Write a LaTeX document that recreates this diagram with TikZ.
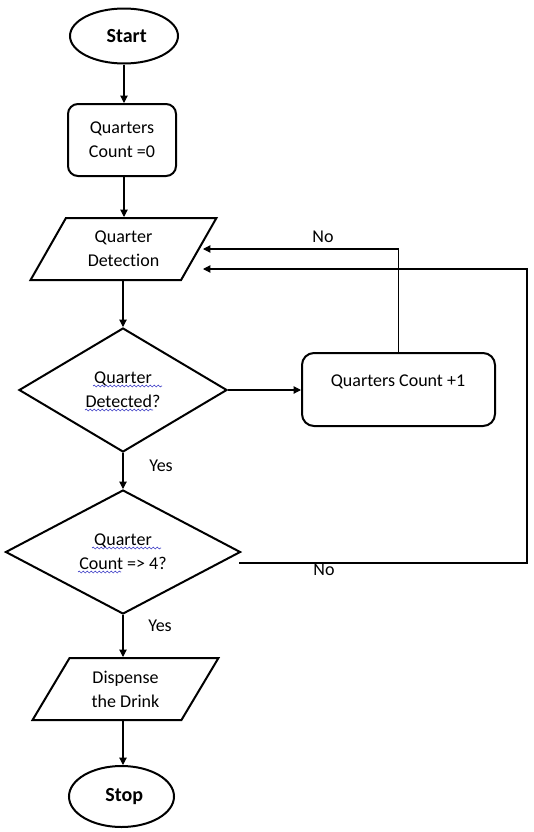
\documentclass[tikz,border=0pt]{standalone}
\usepackage{fontspec}
\setmainfont{Carlito}[Ligatures={TeX,NoCommon}]
\usetikzlibrary{shapes.geometric,arrows.meta,decorations.pathmorphing}
\begin{document}
\begin{tikzpicture}[x=0.75pt,y=-0.75pt,
  every node/.style={font=\fontsize{13.5}{18}\selectfont},
  term/.style={ellipse, draw, line width=1.5pt, inner sep=0pt, font=\fontsize{15}{18}\selectfont\bfseries},
  procbox/.style={rectangle, rounded corners=7.5pt, draw, line width=1.5pt, align=center},
  iobox/.style={trapezium, trapezium left angle=58.5, trapezium right angle=121.5,
    trapezium stretches=true, draw, line width=1.5pt, align=center,
    minimum width=140.25pt, minimum height=46.5pt, inner sep=0pt},
  decision/.style={diamond, draw, line width=1.5pt, align=center, inner sep=0pt, minimum height=93pt},
  conn/.style={line width=0.8pt, -{Triangle[length=5.5pt,width=5.5pt]}},
  plainline/.style={line width=0.8pt},
  wavy/.style={decorate, decoration={snake, amplitude=0.7pt, segment length=3pt},
    draw={rgb,255:red,70;green,70;blue,200}, line width=0.5pt},
  lbl/.style={inner sep=0pt}
]
\useasboundingbox (0,0) rectangle (534,832);

\node[term, minimum width=81pt, minimum height=41.25pt] (start) at (124,36) {\hspace*{4pt}Start};
\node[procbox, minimum width=81pt, minimum height=54pt] (qc0) at (122,140) {Quarters\\Count =0};
\node[iobox] (qd) at (123.5,249) {Quarter\\Detection};
\node[decision, minimum width=156pt] (d1) at (123,390) {Quarter\\Detected?};
\node[procbox, rounded corners=9pt, minimum width=144.75pt, minimum height=54.75pt] (inc) at (398.5,389.5) {};
\node (inctext) at (398,382) {Quarters Count +1};
\node[decision, minimum width=176.25pt] (d2) at (123,552) {Quarter\\Count => 4?};
\node[iobox] (disp) at (125.5,689) {Dispense\\the Drink};
\node[term, minimum width=78.75pt, minimum height=45.75pt] (stop) at (121.5,796.5) {\hspace*{4pt}Stop};

\coordinate (in1) at (203,249);
\coordinate (in2) at (203,269);
\coordinate (out2) at (239,563);
\coordinate (c2) at (527,563);

\draw[conn] (start.south) -- (start.south |- qc0.north);
\draw[conn] (qc0.south -| start.south) -- (start.south |- qd.north);
\draw[conn] (qd.south -| d1.north) -- (d1.north);
\draw[conn] (d1.east) -- (d1.east -| inc.west);
\draw[conn] (inc.north) |- (in1);
\draw[conn] (d1.south) -- (d2.north);
\draw[conn] (out2) -- (c2) |- (in2);
\draw[conn] (d2.south) -- (d2.south |- disp.north);
\draw[conn] (disp.south -| d2.south) -- (d2.south |- stop.north);

\node[lbl] (no1) at (323,237) {No};
\node[lbl] (yes1) at (161,466) {Yes};
\node[lbl] (no2) at (324,570) {No};
\node[lbl] (yes2) at (160,626) {Yes};

\draw[wavy] (93,386) -- (162,386);
\draw[wavy] (85,410) -- (153,410);
\draw[wavy] (92,548) -- (161,548);
\draw[wavy] (78,572) -- (121,572);
\end{tikzpicture}
\end{document}
